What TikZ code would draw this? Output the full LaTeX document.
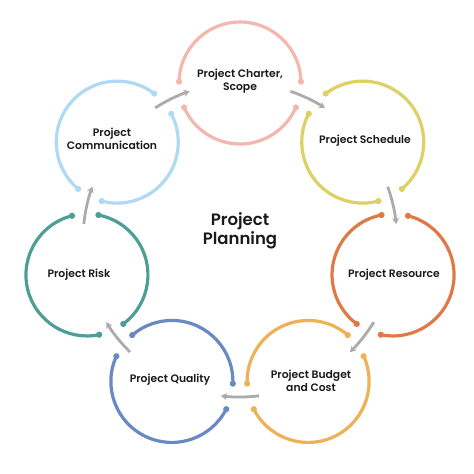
\documentclass[tikz,border=0pt]{standalone}
\usepackage{fontspec}
\setmainfont{Poppins}[BoldFont={* SemiBold}]
\usetikzlibrary{arrows.meta,calc}
\definecolor{cCharter}{HTML}{F5B7AC}
\definecolor{cSchedule}{HTML}{DDD166}
\definecolor{cResource}{HTML}{DF7A48}
\definecolor{cBudget}{HTML}{EDB258}
\definecolor{cQuality}{HTML}{6A88C4}
\definecolor{cRisk}{HTML}{4C9E96}
\definecolor{cComm}{HTML}{AEDAF5}
\definecolor{arrowgray}{HTML}{ABABAB}
\definecolor{txt}{HTML}{1A1A1A}
\begin{document}
\begin{tikzpicture}[x=1pt,y=1pt,
  ring/.style={line width=3.2pt},
  flow/.style={line width=2.8pt, draw=arrowgray, -{Stealth[length=6pt,width=7pt]}},
  lbl/.style={font=\bfseries\fontsize{10.8}{13}\selectfont, align=center, text=txt, inner sep=0pt},
  title/.style={font=\bfseries\fontsize{16.5}{18.5}\selectfont, align=center, text=txt, inner sep=0pt}
]
\useasboundingbox[fill=white] (0,0) rectangle (474,474);
\coordinate (C) at (240,234);
\def\R{157}
\def\r{61}
\foreach \i/\col in {0/cCharter,1/cSchedule,2/cResource,3/cBudget,4/cQuality,5/cRisk,6/cComm} {
  \pgfmathsetmacro{\a}{90-\i*360/7}
  \pgfmathsetmacro{\oa}{\a-88.7}
  \pgfmathsetmacro{\ob}{\a+88.7}
  \pgfmathsetmacro{\ia}{\a+113.7}
  \pgfmathsetmacro{\ib}{\a+246.3}
  \pgfmathsetmacro{\fa}{\a+32.7}
  \pgfmathsetmacro{\fb}{\a+18.7}
  \coordinate (s\i) at ($(C)+(\a:\R)$);
  \draw[ring,\col] ($(s\i)+(\oa:\r)$) arc[start angle=\oa, end angle=\ob, radius=\r];
  \draw[ring,\col] ($(s\i)+(\ia:\r)$) arc[start angle=\ia, end angle=\ib, radius=\r];
  \foreach \e in {\oa,\ob,\ia,\ib} {
    \fill[\col] ($(s\i)+(\e:\r)$) circle (3.1pt);
  }
  \draw[flow] ($(C)+(\fa:\R)$) arc[start angle=\fa, end angle=\fb, radius=\R];
}
\node[lbl] (charter) at (240,392.5) {Project Charter,\\Scope};
\node[lbl] (schedule) at (365,333) {Project Schedule};
\node[lbl] (resource) at (394,199) {Project Resource};
\node[lbl] (budget) at (311,93) {Project Budget\\and Cost};
\node[lbl] (quality) at (170,94) {Project Quality};
\node[lbl] (risk) at (79,199) {Project Risk};
\node[lbl] (comm) at (112,335.5) {Project\\Communication};
\node[title] (planning) at (240,243) {Project\\Planning};
\end{tikzpicture}
\end{document}
